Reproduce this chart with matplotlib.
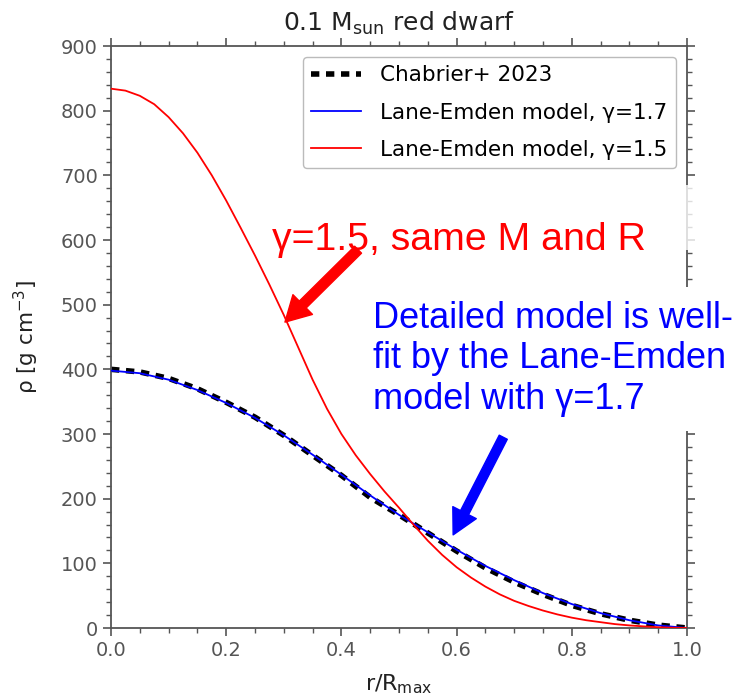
import matplotlib
matplotlib.use("Agg")
import matplotlib.pyplot as plt
from matplotlib.ticker import MultipleLocator
from matplotlib.patches import Rectangle

# r/R_max grid for the detailed model and the gamma=1.7 fit
r = [0.0, 0.05, 0.1, 0.15, 0.2, 0.25, 0.3, 0.35, 0.4, 0.45, 0.5,
     0.55, 0.6, 0.65, 0.7, 0.75, 0.8, 0.85, 0.9, 0.95, 1.0]

# density [g cm^-3]
rho_chabrier = [400, 396, 386, 370, 349, 326, 298, 267, 236, 202, 175,
                147, 119, 93, 71, 52, 35, 22, 12, 4.5, 0]
rho_le17 = [398, 394, 384, 368, 348, 325, 298, 268, 237, 205, 175,
            148, 121, 96, 74, 54, 37, 23, 12, 4, 0]

# the gamma=1.5 curve bends harder, so it was read on a finer grid
r_fine = [0.0, 0.025, 0.05, 0.075, 0.1, 0.125, 0.15, 0.175, 0.2, 0.225,
          0.25, 0.275, 0.3, 0.325, 0.35, 0.375, 0.4, 0.425, 0.45, 0.475,
          0.5, 0.525, 0.55, 0.575, 0.6, 0.625, 0.65, 0.675, 0.7, 0.725,
          0.75, 0.775, 0.8, 0.825, 0.85, 0.875, 0.9, 0.925, 0.95, 0.975, 1.0]
rho_le15 = [834, 831, 823, 810, 790, 765, 735, 700, 661, 619,
            576, 531, 484, 434, 384, 339, 300, 267, 238, 211,
            186, 160, 135, 113, 94, 78, 64, 52, 42, 34,
            27, 21, 16, 12, 9, 6, 4, 2.5, 1.2, 0.4, 0]

labels = ["Chabrier+ 2023", "Lane-Emden model, γ=1.7", "Lane-Emden model, γ=1.5"]

W, H = 745, 699
fig = plt.figure(figsize=(W / 100, H / 100), dpi=100)
ax = fig.add_axes([111 / W, 1 - 628 / H, 576 / W, 582 / H])

ax.plot(r, rho_chabrier, color="black", lw=4, dashes=(1.5, 1.2),
        dash_capstyle="butt", label=labels[0], zorder=2)
ax.plot(r, rho_le17, color="blue", lw=1.3, label=labels[1], zorder=3)
ax.plot(r_fine, rho_le15, color="red", lw=1.3, label=labels[2], zorder=3)

ax.set_xlim(0, 1)
ax.set_ylim(0, 900)
ax.xaxis.set_major_locator(MultipleLocator(0.2))
ax.xaxis.set_minor_locator(MultipleLocator(0.05))
ax.yaxis.set_major_locator(MultipleLocator(100))
ax.yaxis.set_minor_locator(MultipleLocator(20))

grey = "#555555"
ax.tick_params(which="both", direction="out", top=True, right=True,
               color=grey, labelcolor=grey, labelsize=14)
ax.tick_params(which="major", length=6, width=1.2)
ax.tick_params(which="minor", length=3.5, width=1)
for s in ax.spines.values():
    s.set_color(grey)
    s.set_linewidth(1.3)

ax.set_title(r"0.1 M$_{\rm sun}$ red dwarf", fontsize=18, color="#222222", pad=11)
ax.set_xlabel(r"r/R$_{\rm max}$", fontsize=16, color="#222222", labelpad=9)
ax.set_ylabel(r"ρ [g cm$^{-3}$]", fontsize=15.5, color="#222222", labelpad=14)

leg = ax.legend(loc="upper right", fontsize=15.5, handlelength=2.3,
                labelspacing=0.8, handletextpad=0.9,
                fancybox=True, framealpha=1, edgecolor="#bbbbbb")

# annotations
ann_font = "Liberation Sans"
fig.text(272 / W, 1 - 240 / H, "γ=1.5, same M and R", color="red",
         fontsize=28.3, family=ann_font, va="center", ha="left")
fig.text(373 / W, 1 - 359 / H,
         "Detailed model is well-\nfit by the Lane-Emden\nmodel with γ=1.7",
         color="blue", fontsize=26, family=ann_font, va="center", ha="left",
         linespacing=1.2, zorder=10,
         bbox=dict(facecolor="white", edgecolor="none", pad=10))

# white patch over the right spine next to the red label
fig.patches.append(Rectangle((680 / W, 1 - 250 / H), 20 / W, 65 / H,
                             transform=fig.transFigure, facecolor="white",
                             edgecolor="none", alpha=0.8, zorder=10))

ax.annotate("", xy=(0.302, 473), xytext=(0.429, 585),
            arrowprops=dict(facecolor="red", edgecolor="red", width=7,
                            headwidth=20, headlength=18))
ax.annotate("", xy=(0.594, 144), xytext=(0.681, 295),
            arrowprops=dict(facecolor="blue", edgecolor="blue", width=6.5,
                            headwidth=19, headlength=18))

fig.savefig("out.png", dpi=100)
